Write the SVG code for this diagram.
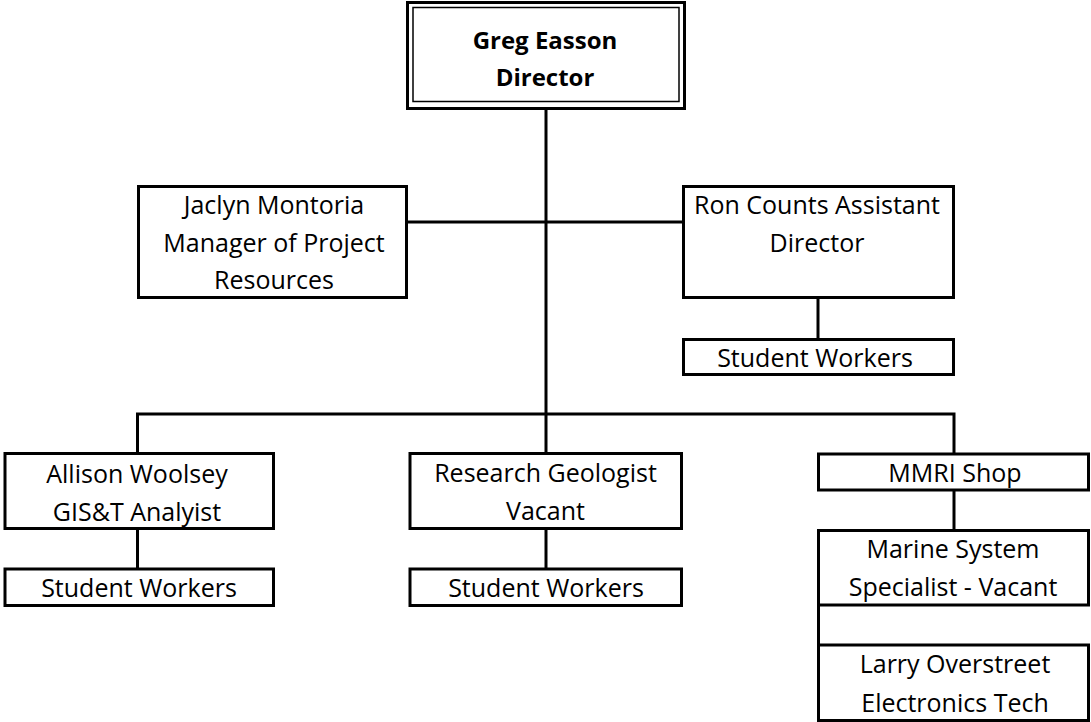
<svg xmlns="http://www.w3.org/2000/svg" width="1091" height="722" viewBox="0 0 1091 722">
<style>
.box{fill:#fff;stroke:#000;stroke-width:3}
.conn{fill:none;stroke:#000;stroke-width:3}
text{font-family:"Open Sans","Noto Sans","Liberation Sans",sans-serif;font-size:25px;fill:#000;text-anchor:middle}
.b{font-weight:bold;font-size:24px}
</style>
<rect x="0" y="0" width="1091" height="722" fill="#fff"/>
<g id="connectors">
<path class="conn" d="M546,110 V453"/>
<path class="conn" d="M408,222 H682"/>
<path class="conn" d="M818,299 V338"/>
<path class="conn" d="M137.5,453 V414 H954 V454"/>
<path class="conn" d="M137.5,528 V569"/>
<path class="conn" d="M546,528 V568"/>
<path class="conn" d="M954,490 V530"/>
<path class="conn" d="M818.5,605 V645"/>
</g>
<g id="director">
<rect x="407.5" y="2.5" width="277" height="106" fill="#fff" stroke="#000" stroke-width="3"/>
<rect x="413" y="7.5" width="266" height="94" fill="none" stroke="#000" stroke-width="1.5"/>
<text class="b" x="545" y="49">Greg Easson</text>
<text class="b" x="545" y="86">Director</text>
</g>
<g id="jaclyn">
<rect class="box" x="138.5" y="186.5" width="268" height="111"/>
<text x="274" y="214">Jaclyn Montoria</text>
<text x="274" y="252">Manager of Project</text>
<text x="274" y="289">Resources</text>
</g>
<g id="ron">
<rect class="box" x="683.5" y="186.5" width="270" height="111"/>
<text x="817" y="214">Ron Counts Assistant</text>
<text x="817" y="252">Director</text>
</g>
<g id="ron-students">
<rect class="box" x="683.5" y="339.5" width="270" height="35"/>
<text x="815" y="367">Student Workers</text>
</g>
<g id="allison">
<rect class="box" x="5" y="453.5" width="268.5" height="75"/>
<text x="137" y="483">Allison Woolsey</text>
<text x="137" y="521">GIS&amp;T Analyist</text>
</g>
<g id="allison-students">
<rect class="box" x="5" y="569" width="268.5" height="36.5"/>
<text x="139" y="597">Student Workers</text>
</g>
<g id="research">
<rect class="box" x="410" y="453.5" width="271.5" height="75"/>
<text x="545.5" y="482">Research Geologist</text>
<text x="545.5" y="520">Vacant</text>
</g>
<g id="research-students">
<rect class="box" x="410" y="569" width="271.5" height="36.5"/>
<text x="546" y="597">Student Workers</text>
</g>
<g id="mmri">
<rect class="box" x="818.5" y="454" width="270" height="36"/>
<text x="955" y="482">MMRI Shop</text>
</g>
<g id="marine">
<rect class="box" x="818.5" y="530.5" width="270" height="74.5"/>
<text x="953" y="558">Marine System</text>
<text x="953" y="596">Specialist - Vacant</text>
</g>
<g id="larry">
<rect class="box" x="818.5" y="645" width="270" height="75.5"/>
<text x="955" y="673">Larry Overstreet</text>
<text x="955" y="712">Electronics Tech</text>
</g>
</svg>
